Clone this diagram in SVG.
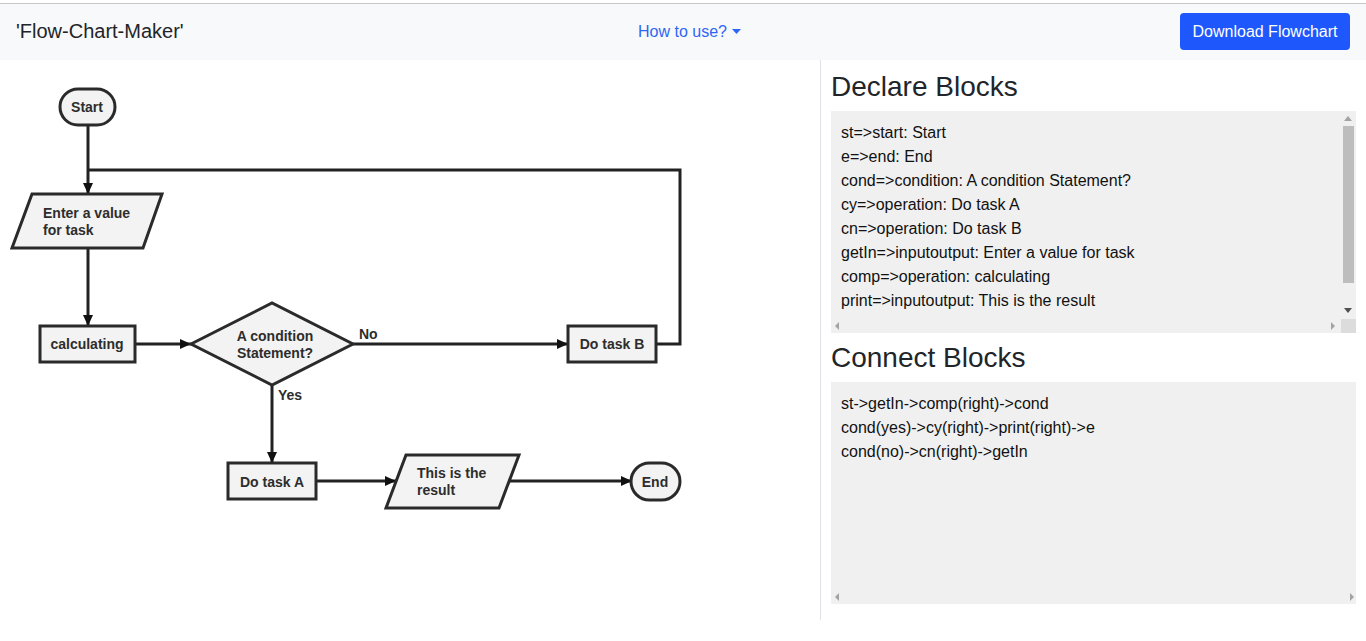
<svg xmlns="http://www.w3.org/2000/svg" width="1366" height="641" viewBox="0 0 1366 641">
<defs>
<style>
.node{fill:#f3f3f3;stroke:#2a2a2a;stroke-width:3}
.lbl{font-family:"Liberation Sans",Arial,sans-serif;font-size:14px;font-weight:bold;fill:#2d2d2d}
.edge{fill:none;stroke:#222;stroke-width:3}
.code{font-family:"Liberation Sans",Arial,sans-serif;font-size:16px;fill:#111}
.h3{font-family:"Liberation Sans",Arial,sans-serif;font-size:28px;fill:#212529}
.box{fill:#f0f0f0}
.sarrow{fill:#a3a3a3}
</style>
<marker id="arr" markerUnits="userSpaceOnUse" markerWidth="12" markerHeight="10" refX="11" refY="5" orient="auto">
<path d="M0,0 L11,5 L0,10 Z" fill="#111"/>
</marker>
</defs>
<rect x="0" y="0" width="1366" height="641" fill="#ffffff"/>
<g id="header">
<rect x="0" y="4" width="1366" height="56" fill="#f8f9fa"/>
<rect x="0" y="3" width="1366" height="1" fill="#c8c8c8"/>
<text x="16" y="38" font-family="'Liberation Sans',Arial,sans-serif" font-size="20" fill="#212529">'Flow-Chart-Maker'</text>
<text x="638" y="37" font-family="'Liberation Sans',Arial,sans-serif" font-size="16" fill="#2f66f5">How to use?</text>
<path d="M732,29 L741,29 L736.5,34 Z" fill="#2f66f5"/>
<rect x="1180" y="13" width="170" height="37" rx="4" fill="#1e58fc"/>
<text x="1265" y="37" text-anchor="middle" font-family="'Liberation Sans',Arial,sans-serif" font-size="16" fill="#ffffff">Download Flowchart</text>
</g>
<rect x="820" y="60" width="1" height="560" fill="#dee2e6"/>
<g id="connectors">
<path class="edge" d="M88,125 L88,194" marker-end="url(#arr)"/>
<path class="edge" d="M656,344 L680,344 L680,170 L88,170"/>
<path class="edge" d="M88,248 L88,326" marker-end="url(#arr)"/>
<path class="edge" d="M135,344 L191,344" marker-end="url(#arr)"/>
<path class="edge" d="M353,344 L568,344" marker-end="url(#arr)"/>
<path class="edge" d="M272,385 L272,463" marker-end="url(#arr)"/>
<path class="edge" d="M316,481 L396,481" marker-end="url(#arr)"/>
<path class="edge" d="M509,481 L632,481" marker-end="url(#arr)"/>
<text class="lbl" x="359" y="339">No</text>
<text class="lbl" x="278" y="400">Yes</text>
</g>
<g id="st">
<rect class="node" x="60" y="89" width="55" height="36" rx="18"/>
<text class="lbl" x="87" y="112" text-anchor="middle">Start</text>
</g>
<g id="getIn">
<polygon class="node" points="32,194 162,194 143,248 12,248"/>
<text class="lbl" x="43" y="218">Enter a value</text>
<text class="lbl" x="43" y="235">for task</text>
</g>
<g id="comp">
<rect class="node" x="40" y="326" width="95" height="36"/>
<text class="lbl" x="87" y="349" text-anchor="middle">calculating</text>
</g>
<g id="cond">
<polygon class="node" points="191,344 272,303 353,344 272,385"/>
<text class="lbl" x="275" y="341" text-anchor="middle">A condition</text>
<text class="lbl" x="275" y="358" text-anchor="middle">Statement?</text>
</g>
<g id="cn">
<rect class="node" x="568" y="326" width="88" height="36"/>
<text class="lbl" x="612" y="349" text-anchor="middle">Do task B</text>
</g>
<g id="cy">
<rect class="node" x="228" y="463" width="88" height="36"/>
<text class="lbl" x="272" y="487" text-anchor="middle">Do task A</text>
</g>
<g id="print">
<polygon class="node" points="406,455 519,455 499,508 386,508"/>
<text class="lbl" x="417" y="478">This is the</text>
<text class="lbl" x="417" y="495">result</text>
</g>
<g id="e">
<rect class="node" x="631" y="463" width="49" height="37" rx="18.5"/>
<text class="lbl" x="655" y="487" text-anchor="middle">End</text>
</g>
<g id="declare">
<text class="h3" x="831" y="96">Declare Blocks</text>
<rect class="box" x="831" y="111" width="525" height="222"/>
<rect x="1343" y="126" width="11" height="157" fill="#bdbdbd"/>
<path class="sarrow" d="M1344,121 L1352,121 L1348,116 Z"/>
<path d="M1344,308 L1352,308 L1348,313 Z" fill="#505050"/>
<rect x="1341" y="319" width="15" height="14" fill="#dcdcdc"/>
<path class="sarrow" d="M839,322 L839,330 L835,326 Z"/>
<path class="sarrow" d="M1331,322 L1331,330 L1335,326 Z"/>
<text class="code" x="841" y="138">st=&gt;start: Start</text>
<text class="code" x="841" y="162">e=&gt;end: End</text>
<text class="code" x="841" y="186">cond=&gt;condition: A condition Statement?</text>
<text class="code" x="841" y="210">cy=&gt;operation: Do task A</text>
<text class="code" x="841" y="234">cn=&gt;operation: Do task B</text>
<text class="code" x="841" y="258">getIn=&gt;inputoutput: Enter a value for task</text>
<text class="code" x="841" y="282">comp=&gt;operation: calculating</text>
<text class="code" x="841" y="306">print=&gt;inputoutput: This is the result</text>
</g>
<g id="connect">
<text class="h3" x="831" y="367">Connect Blocks</text>
<rect class="box" x="831" y="382" width="525" height="222"/>
<path class="sarrow" d="M839,593 L839,601 L835,597 Z"/>
<path class="sarrow" d="M1350,593 L1350,601 L1354,597 Z"/>
<text class="code" x="841" y="409">st-&gt;getIn-&gt;comp(right)-&gt;cond</text>
<text class="code" x="841" y="433">cond(yes)-&gt;cy(right)-&gt;print(right)-&gt;e</text>
<text class="code" x="841" y="457">cond(no)-&gt;cn(right)-&gt;getIn</text>
</g>
</svg>
